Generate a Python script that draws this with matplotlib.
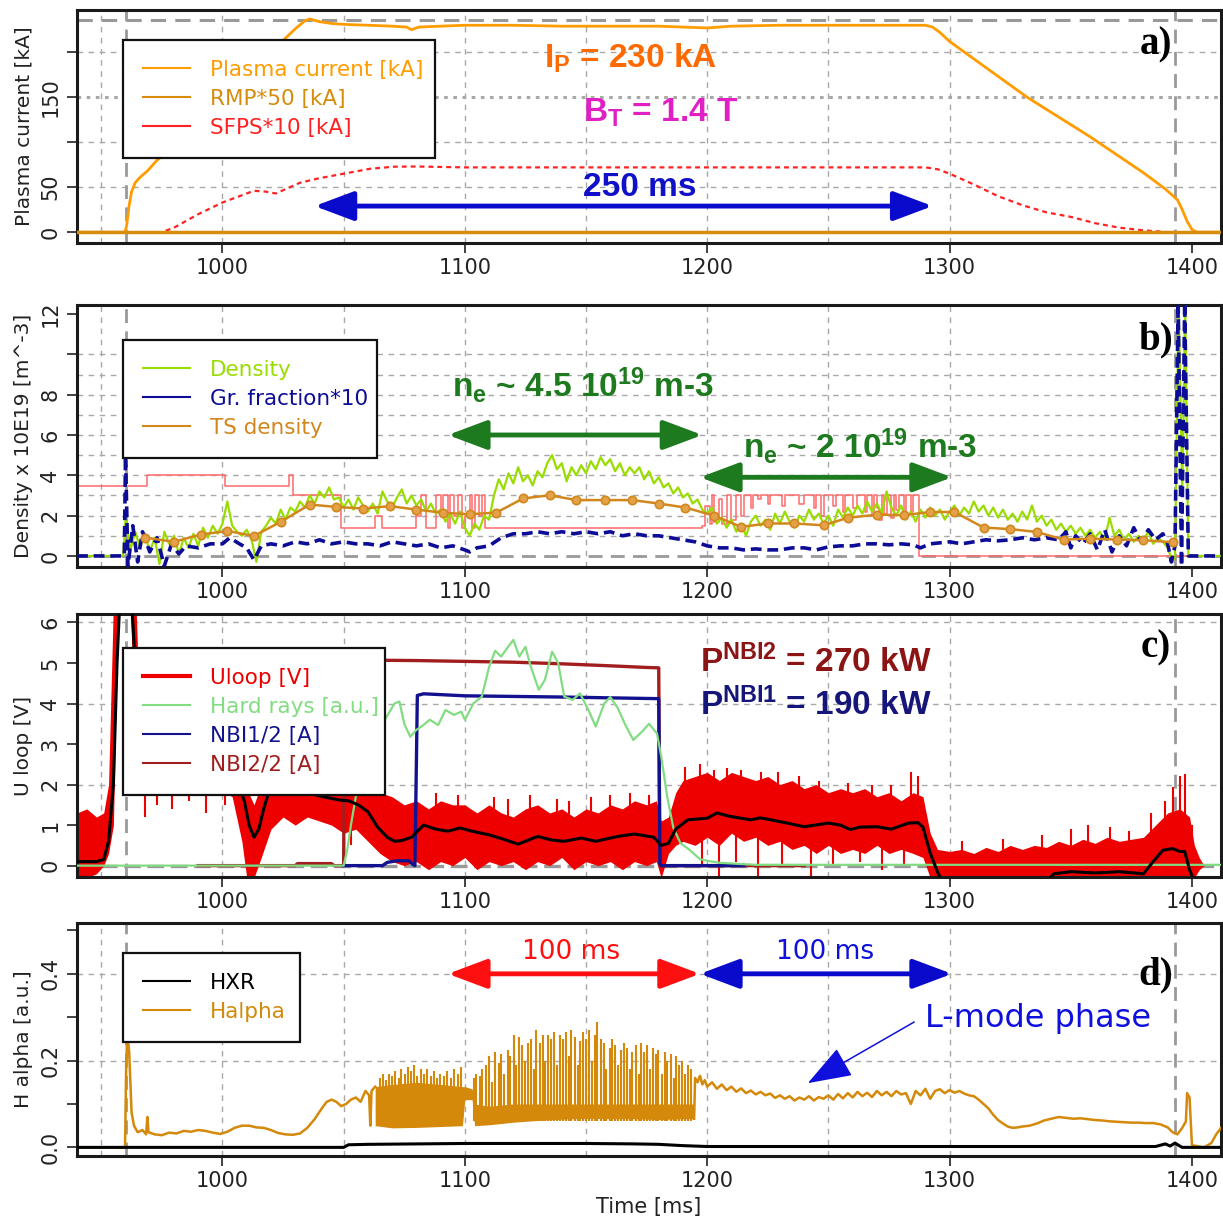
"""Shot overview: plasma current, density, loop voltage and H-alpha in four stacked panels."""
import numpy as np
import matplotlib
matplotlib.use("Agg")
import matplotlib.pyplot as plt
from matplotlib.lines import Line2D

plt.rcParams["font.family"] = ["DejaVu Sans"]
plt.rcParams["mathtext.fontset"] = "custom"
plt.rcParams["mathtext.rm"] = "Liberation Sans"
plt.rcParams["mathtext.bf"] = "Liberation Sans:bold"
plt.rcParams["mathtext.it"] = "Liberation Sans:italic"

# ---- a) plasma current / RMP / SFPS ---------------------------------------
ip_t = [940, 959.8, 960.5, 961.5, 962.5, 964, 966, 969, 973, 980,
        990, 1000, 1010, 1020, 1025, 1030, 1034, 1036, 1040, 1045,
        1050, 1060, 1070, 1076, 1078, 1081, 1090, 1100, 1120, 1140,
        1160, 1180, 1190, 1200, 1210, 1230, 1260, 1290, 1293, 1296,
        1300, 1332, 1358, 1380, 1389, 1394, 1396, 1398, 1400, 1402, 1412]
ip_v = [0, 0, 8, 30, 45, 55, 61, 68, 80, 95,
        122, 150, 175, 200, 213, 226, 235, 237, 234, 232,
        231, 230, 229, 228, 225, 228, 229, 230, 230, 229,
        229, 229, 228, 227, 229, 230, 230, 230, 228, 222,
        212, 150, 106, 66, 48, 36, 25, 12, 3, 0, 0]
rmp_t = [940, 1412]
rmp_v = [0, 0]
sfps_t = [940, 975, 980, 990, 1000, 1008, 1013, 1018, 1022, 1032,
          1040, 1050, 1061, 1071, 1080, 1100, 1200, 1290, 1295, 1300,
          1310, 1320, 1330, 1340, 1350, 1360, 1370, 1380, 1390, 1412]
sfps_v = [0, 0, 5, 20, 33, 41, 46, 45, 43, 55,
          60, 65, 70.5, 72.8, 73, 72, 72, 72, 70, 65,
          53, 40, 30, 22, 17, 10, 5, 2, 0, 0]

# ---- b) density ------------------------------------------------------------
dens_pre_t = [940, 959]
dens_pre_v = [0, 0]
dens_t0, dens_dt = 960, 2          # interferometer samples every 2 ms from 960 ms
dens_v = [
    1.8, 0.3, 1.2, 0.4, 1.1, 0.2, 0.9, -0.4, 1.2, 0.6,
    1.0, 0.1, 0.9, 0.4, 1.1, 0.5, 1.4, 0.9, 1.5, 1.1,
    1.6, 2.7, 1.5, 1.2, 1.0, 1.3, 0.8, -0.3, 1.2, 1.5,
    1.9, 1.6, 2.3, 1.8, 2.4, 2.2, 2.7, 2.4, 3.0, 2.6,
    3.2, 2.9, 3.4, 2.8, 2.9, 2.4, 2.8, 2.3, 2.9, 2.5,
    2.2, 2.6, 2.1, 3.2, 2.7, 2.4, 2.9, 3.3, 2.6, 3.0,
    2.5, 2.8, 2.2, 2.6, 2.1, 2.3, 1.7, 2.1, 1.6, 2.2,
    1.4, 1.0, 1.6, 1.3, 2.0, 1.8, 3.0, 3.8, 3.3, 4.1,
    3.6, 4.4, 3.7, 4.0, 3.5, 4.2, 3.9, 4.6, 5.0, 4.3,
    4.6, 3.7, 4.4, 4.0, 4.5, 4.1, 4.7, 4.3, 4.9, 4.5,
    4.8, 4.2, 4.6, 4.0, 4.4, 4.1, 4.4, 3.8, 4.2, 3.6,
    3.9, 3.4, 3.6, 3.1, 3.4, 2.9, 3.1, 2.6, 2.8, 2.3,
    2.1, 2.4, 1.6, 1.9, 1.4, 1.8, 1.2, 1.6, 1.0, 1.7,
    2.0, 1.5, 1.8, 1.3, 2.1, 1.6, 2.2, 1.7, 1.4, 2.0,
    1.7, 2.3, 1.8, 2.1, 1.6, 2.0, 1.5, 2.3, 1.9, 2.4,
    2.0, 2.5, 2.1, 2.7, 2.2, 2.6, 2.1, 3.2, 2.4, 2.0,
    2.5, 1.8, 2.2, 1.7, 2.3, 1.9, 2.4, 2.0, 2.3, 1.8,
    2.2, 2.5, 2.0, 2.4, 2.1, 2.7, 2.2, 2.5, 2.0, 2.4,
    1.9, 2.3, 1.8, 2.1, 1.7, 2.2, 1.8, 2.5, 1.7, 2.0,
    1.5, 1.8, 1.3, 1.6, 1.2, 1.5, 1.1, 1.4, 1.0, 1.3,
    0.9, 1.2, 0.8, 1.9, 1.0, 1.3, 0.8, 1.1, 0.7, 1.0,
    0.8, 1.2, 0.6, 0.9, 0.7, 0.4, -0.3,
]
dens_tail_t = [1393, 1394.5, 1396, 1397.2, 1398.5, 1400, 1412]
dens_tail_v = [0, 12.6, 3, 12.6, 0, 0, 0]

gr_t = [940, 959.5, 960, 961, 963, 965, 967, 970, 973, 976,
        979, 982, 985, 990, 995, 1000, 1003, 1007, 1010, 1013,
        1016, 1020, 1025, 1030, 1035, 1040, 1045, 1050, 1055, 1060,
        1065, 1070, 1075, 1080, 1085, 1090, 1095, 1100, 1102, 1105,
        1110, 1115, 1120, 1125, 1130, 1135, 1140, 1145, 1150, 1155,
        1160, 1165, 1170, 1175, 1180, 1185, 1190, 1195, 1200, 1205,
        1210, 1215, 1220, 1225, 1230, 1235, 1240, 1245, 1250, 1255,
        1260, 1265, 1270, 1275, 1280, 1285, 1288, 1292, 1300, 1305,
        1310, 1315, 1320, 1325, 1330, 1335, 1340, 1345, 1348, 1350,
        1352, 1355, 1358, 1361, 1364, 1367, 1370, 1373, 1376, 1379,
        1382, 1385, 1388, 1390, 1391.5, 1393, 1394.3, 1395.7, 1397, 1398.5,
        1412]
gr_v = [0, 0, 5.0, -0.5, 1.5, -0.3, 1.2, 0.2, 0.9, -0.5,
        0.6, 0.1, 0.5, 0.4, 0.6, 0.6, 0.9, 0.6, 0.4, -0.2,
        0.5, 0.6, 0.5, 0.7, 0.6, 0.8, 0.6, 0.7, 0.6, 0.6,
        0.5, 0.7, 0.6, 0.5, 0.6, 0.4, 0.5, 0.3, 0.2, 0.4,
        0.5, 0.9, 1.1, 1.1, 1.2, 1.1, 1.2, 1.1, 1.2, 1.1,
        1.2, 1.0, 1.1, 1.0, 1.0, 0.9, 0.8, 0.7, 0.5, 0.4,
        0.4, 0.3, 0.35, 0.3, 0.3, 0.4, 0.4, 0.3, 0.45, 0.5,
        0.5, 0.6, 0.6, 0.55, 0.6, 0.55, 0.4, 0.6, 0.7, 0.6,
        0.7, 0.8, 0.75, 0.8, 0.9, 0.8, 0.9, 0.8, 1.2, 0.4,
        1.0, 0.6, 1.1, 0.3, 1.3, 0.2, 1.0, 0.5, 1.4, 0.7,
        1.3, 0.8, 1.1, 0.6, -0.3, 0.5, 12.6, -0.5, 12.6, 0,
        0]

ts_t = [968, 980, 991, 1002, 1013, 1024, 1036, 1047, 1058, 1069,
        1080, 1091, 1102, 1113, 1124, 1135, 1146, 1158, 1169, 1180,
        1191, 1203, 1214, 1225, 1236, 1248, 1258, 1270, 1281, 1292,
        1302, 1314, 1325, 1336, 1347, 1358, 1369, 1380, 1392]
ts_v = [0.91, 0.70, 1.06, 1.24, 0.99, 1.69, 2.55, 2.43, 2.35, 2.47,
        2.30, 2.14, 2.07, 2.15, 2.85, 3.01, 2.77, 2.77, 2.77, 2.60,
        2.40, 1.99, 1.44, 1.61, 1.61, 1.52, 1.89, 2.05, 2.02, 2.18,
        2.18, 1.41, 1.33, 1.19, 0.81, 0.86, 0.81, 0.78, 0.68]

# thin red stepped channel (no legend entry)
step_t = [940, 969, 1001, 1027.5, 1029, 1049, 1063, 1066, 1080, 1082,
          1084, 1088, 1090, 1091, 1093, 1094, 1095.5, 1097, 1099, 1100,
          1102, 1103, 1104, 1106, 1107, 1108.5, 1198, 1199, 1201, 1202,
          1203, 1205, 1206, 1208, 1210, 1212, 1214, 1215, 1218, 1219,
          1221, 1222, 1225, 1226, 1231, 1232, 1238, 1240, 1244, 1245,
          1247, 1248, 1252, 1253, 1256, 1257, 1260, 1262, 1265, 1266,
          1268, 1269, 1270, 1271, 1272, 1273, 1274, 1276, 1277, 1278,
          1279, 1281, 1282, 1284, 1285, 1287.5, 1412]
step_v = [3.45, 4.0, 3.45, 4.0, 3.0, 1.4, 2.0, 1.4, 2.0, 3.0,
          1.4, 3.0, 2.0, 3.0, 1.4, 3.0, 2.0, 3.0, 1.4, 2.0,
          3.0, 1.4, 3.0, 2.0, 3.0, 1.4, 1.5, 2.5, 1.6, 3.0,
          1.7, 2.8, 1.6, 3.0, 1.8, 3.0, 2.0, 3.0, 2.4, 3.0,
          2.8, 3.0, 2.6, 3.0, 2.5, 3.0, 2.6, 3.0, 2.4, 3.0,
          2.0, 3.0, 2.5, 3.0, 2.2, 3.0, 2.4, 3.0, 2.2, 3.0,
          2.0, 3.0, 2.4, 1.8, 3.0, 2.1, 3.0, 1.9, 3.0, 2.3,
          3.0, 2.0, 3.0, 2.2, 3.0, 0.0, 0.0]

# ---- c) loop voltage, hard X-rays, NBI ------------------------------------
uloop_t = [940, 944, 948, 951, 953, 955, 957, 962, 964, 966,
           970, 975, 980, 985, 990, 995, 1000, 1004, 1008, 1010,
           1013, 1016, 1020, 1025, 1030, 1035, 1040, 1045, 1050, 1055,
           1060, 1065, 1070, 1075, 1080, 1085, 1090, 1095, 1100, 1105,
           1110, 1115, 1120, 1125, 1130, 1135, 1140, 1145, 1150, 1155,
           1160, 1165, 1170, 1175, 1179, 1181, 1184, 1187, 1190, 1195,
           1200, 1205, 1210, 1215, 1220, 1225, 1230, 1235, 1240, 1245,
           1250, 1255, 1260, 1265, 1270, 1275, 1280, 1285, 1289, 1292,
           1295, 1300, 1305, 1310, 1315, 1320, 1325, 1330, 1335, 1340,
           1345, 1350, 1355, 1360, 1365, 1370, 1375, 1380, 1385, 1390,
           1395, 1399, 1401, 1403, 1405]
uloop_lo = [-0.3, -0.3, -0.2, 0.0, 0.3, 1.0, 6.5, 6.5, 2.5, 2.0,
            2.0, 1.9, 1.95, 1.85, 2.0, 1.9, 1.85, 1.7, 0.6, -0.3,
            -0.3, 0.2, 0.9, 1.2, 1.0, 1.2, 1.1, 1.0, 0.8, 0.9,
            0.6, 0.3, 0.1, 0.0, 0.1, -0.1, 0.1, 0.0, 0.2, -0.1,
            0.1, 0.0, 0.1, -0.1, 0.1, 0.0, 0.2, -0.1, 0.1, 0.0,
            0.1, -0.1, 0.1, 0.0, 0.1, -0.3, 0.3, 0.5, 0.6, 0.5,
            0.7, 0.5, 0.8, 0.6, 0.7, 0.5, 0.6, 0.4, 0.5, 0.3,
            0.5, 0.3, 0.4, 0.3, 0.5, 0.3, 0.4, 0.3, 0.2, -0.3,
            -0.3, -0.3, -0.3, -0.3, -0.3, -0.3, -0.3, -0.3, -0.3, -0.3,
            -0.3, -0.3, -0.3, -0.3, -0.3, -0.3, -0.3, -0.3, -0.3, -0.3,
            -0.3, -0.3, -0.3, -0.1, 0.0]
uloop_hi = [1.3, 1.4, 1.2, 1.3, 2.0, 6.5, 7.0, 7.0, 7.0, 3.5,
            3.0, 2.8, 2.9, 2.7, 2.8, 2.6, 2.5, 2.4, 2.2, 1.9,
            1.5, 2.0, 2.2, 2.4, 2.3, 2.3, 2.2, 2.1, 2.0, 1.9,
            1.9, 1.8, 1.7, 1.5, 1.6, 1.4, 1.6, 1.5, 1.5, 1.3,
            1.5, 1.3, 1.2, 1.4, 1.5, 1.3, 1.4, 1.2, 1.4, 1.3,
            1.5, 1.4, 1.6, 1.5, 1.6, 1.1, 1.2, 1.8, 2.1, 2.2,
            2.3, 2.1, 2.3, 2.2, 2.1, 2.2, 2.0, 2.1, 1.9, 2.0,
            1.8, 1.9, 1.8, 1.9, 1.7, 1.8, 1.6, 1.8, 1.7, 0.8,
            0.4, 0.35, 0.4, 0.3, 0.45, 0.35, 0.5, 0.4, 0.5, 0.45,
            0.6, 0.5, 0.65, 0.55, 0.7, 0.6, 0.65, 0.7, 1.0, 1.3,
            1.4, 1.2, 0.5, 0.2, 0.0]
# isolated Uloop spikes outside the band
spk_t = [1053, 1080, 1088, 1097, 1112, 1118, 1127, 1138, 1143, 1152,
         1160, 1168, 1176, 1191, 1197, 1203, 1208, 1214, 1222, 1229,
         1238, 1246, 1258, 1268, 1276, 1284, 1287, 1305, 1322, 1338,
         1350, 1357, 1366, 1374, 1383, 1389, 1392, 1395, 1397, 1400,
         1198, 1205, 1212, 1221, 1231, 1243, 1252, 1263, 1272, 1281,
         968, 973, 979, 986, 993, 1001]
spk_lo = [0.5, 0.5, 0.5, 0.5, 0.5, 0.5, 0.5, 0.5, 0.5, 0.5,
          0.5, 0.5, 0.5, 1.0, 1.0, 1.0, 1.0, 1.0, 1.0, 1.0,
          1.0, 1.0, 1.0, 1.0, 1.0, 1.0, 1.0, 0.0, 0.0, 0.0,
          0.0, 0.0, 0.0, 0.0, 0.0, 0.0, 0.0, 0.0, 0.0, 0.0,
          0.0, -0.3, 0.1, -0.3, 0.0, -0.3, 0.0, 0.1, -0.1, 0.0,
          1.2, 1.5, 1.4, 1.6, 1.3, 1.5]
spk_hi = [2.0, 2.1, 1.8, 1.75, 1.7, 1.65, 1.75, 1.65, 1.6, 1.7,
          1.75, 1.8, 1.75, 2.44, 2.5, 2.35, 2.4, 2.35, 2.3, 2.3,
          2.2, 2.1, 2.05, 2.0, 2.0, 2.3, 2.2, 0.6, 0.65, 0.75,
          0.9, 1.0, 0.95, 0.85, 1.3, 1.6, 1.95, 2.2, 2.25, 1.0,
          1.0, 1.0, 1.0, 1.0, 1.0, 1.0, 1.0, 1.0, 1.0, 1.0,
          2.2, 2.2, 2.2, 2.2, 2.2, 2.2]
# smoothed loop voltage (black)
usm_t = [940, 948, 951, 953, 955, 956.5, 958, 962, 964, 966,
         975, 990, 1000, 1006, 1009, 1011, 1013, 1015, 1017, 1020,
         1030, 1040, 1048, 1052, 1056, 1060, 1064, 1068, 1071, 1074,
         1078, 1083, 1088, 1093, 1098, 1103, 1110, 1116, 1122, 1130,
         1136, 1141, 1148, 1154, 1163, 1170, 1178, 1181, 1184, 1187,
         1192, 1200, 1204, 1209, 1218, 1222, 1233, 1240, 1250, 1255,
         1259, 1263, 1270, 1276, 1283, 1287, 1289, 1292, 1295, 1297,
         1340, 1343, 1350, 1360, 1370, 1380, 1384, 1388, 1392, 1395,
         1397, 1399, 1401]
usm_v = [0.1, 0.1, 0.15, 0.6, 2.0, 5.0, 7.0, 7.0, 5.0, 3.0,
         2.6, 2.4, 2.3, 2.1, 1.6, 1.0, 0.7, 0.9, 1.4, 2.0,
         1.9, 1.72, 1.62, 1.6, 1.5, 1.33, 0.95, 0.7, 0.6, 0.62,
         0.7, 1.0, 0.9, 0.85, 0.93, 0.85, 0.76, 0.65, 0.53, 0.72,
         0.63, 0.6, 0.68, 0.6, 0.72, 0.78, 0.7, 0.5, 0.55, 0.9,
         1.13, 1.17, 1.3, 1.22, 1.13, 1.18, 1.05, 0.96, 1.05, 1.0,
         0.89, 0.95, 0.96, 0.9, 1.05, 1.06, 0.95, 0.31, -0.15, -0.4,
         -0.4, -0.2, -0.15, -0.18, -0.15, -0.2, 0.1, 0.38, 0.42, 0.35,
         0.35, -0.1, -0.4]
hr_t = [940, 1050, 1051.5, 1053, 1055, 1058, 1062, 1066, 1069, 1071,
        1073, 1075, 1077.5, 1080, 1082.5, 1085.5, 1089, 1092, 1095.5, 1098.5,
        1100, 1103.5, 1107, 1110, 1112.5, 1115, 1117.5, 1120, 1122.5, 1125,
        1127, 1130.5, 1133, 1136, 1138.5, 1141, 1144.5, 1147.5, 1151, 1154,
        1157.5, 1160, 1163, 1166, 1169.5, 1173, 1176, 1179.3, 1181, 1183.5,
        1186, 1189, 1192.5, 1197, 1200, 1205, 1211, 1220, 1412]
hr_v = [0.0, 0.0, 0.4, 1.0, 1.7, 2.4, 3.0, 3.5, 3.8, 4.0,
        4.05, 3.5, 3.18, 3.35, 3.45, 3.6, 3.47, 3.84, 3.72, 3.8,
        3.6, 4.0, 4.17, 4.9, 5.3, 5.16, 5.37, 5.57, 5.16, 5.4,
        4.95, 4.34, 4.58, 5.28, 5.0, 4.17, 4.09, 4.25, 3.84, 3.43,
        4.0, 4.16, 3.9, 3.5, 3.1, 3.3, 3.5, 3.26, 2.7, 1.7,
        0.94, 0.55, 0.4, 0.16, 0.12, 0.07, 0.05, 0.02, 0.02]
nbi1_t = [1050, 1066, 1068, 1072, 1077, 1078.5, 1079.4, 1080.4, 1083, 1100,
          1140, 1180, 1180.5, 1181, 1215]
nbi1_v = [0, 0, 0.08, 0.12, 0.12, 0.03, 0.0, 4.2, 4.24, 4.19,
          4.16, 4.12, 0.05, 0.0, 0.0]
nbi2_t = [990, 1030, 1031, 1045, 1046, 1050, 1050.4, 1060, 1080, 1100,
          1120, 1140, 1160, 1175, 1180, 1180.4, 1181, 1240]
nbi2_v = [0, 0, 0.05, 0.05, 0, 0, 5.08, 5.07, 5.06, 5.04,
          5.02, 4.98, 4.93, 4.89, 4.88, 0.0, 0.0, 0.0]

# ---- d) H-alpha / HXR ------------------------------------------------------
ha_pre_t = [940, 959.8, 960.3, 960.8, 961.5, 962.5, 963.5, 965, 967, 968.5,
            969, 969.5, 972, 975, 978, 981, 984, 987, 990, 993,
            996, 999, 1002, 1005, 1008, 1011, 1014, 1017, 1020, 1023,
            1026, 1029, 1032, 1035, 1038, 1041, 1043, 1045, 1047, 1049,
            1051, 1053, 1055, 1057, 1059, 1060.5, 1061, 1061.5, 1063]
ha_pre_v = [0, 0, 0.2, 0.26, 0.22, 0.08, 0.05, 0.035, 0.04, 0.03,
            0.07, 0.035, 0.03, 0.028, 0.034, 0.032, 0.038, 0.036, 0.04, 0.038,
            0.034, 0.031, 0.036, 0.045, 0.05, 0.05, 0.046, 0.045, 0.04, 0.033,
            0.03, 0.029, 0.032, 0.045, 0.065, 0.09, 0.105, 0.11, 0.105, 0.095,
            0.1, 0.11, 0.115, 0.105, 0.13, 0.12, 0.05, 0.13, 0.14]
# dense inter-ELM band
ha_band_t = [1063, 1070, 1080, 1090, 1099, 1100, 1103, 1104, 1110, 1120,
             1130, 1140, 1150, 1160, 1170, 1180, 1190, 1194.6]
ha_band_lo = [0.05, 0.045, 0.046, 0.048, 0.05, 0.11, 0.11, 0.05, 0.052, 0.058,
              0.062, 0.065, 0.067, 0.066, 0.066, 0.064, 0.066, 0.066]
ha_band_hi = [0.14, 0.145, 0.15, 0.145, 0.14, 0.14, 0.135, 0.10, 0.095, 0.10,
              0.10, 0.10, 0.10, 0.10, 0.10, 0.10, 0.10, 0.10]
# ELM spikes
elm_t = [1065.0, 1066.4, 1067.5, 1068.9, 1070.1, 1071.2, 1072.7, 1073.8, 1075.2, 1076.4,
         1077.6, 1079.1, 1080.3, 1081.8, 1083.0, 1084.3, 1085.9, 1087.1, 1088.6, 1089.8,
         1091.4, 1092.7, 1094.1, 1095.6, 1097.0, 1098.4, 1103.6, 1104.7, 1106.1, 1107.2,
         1108.7, 1109.9, 1111.4, 1112.5, 1113.9, 1115.1, 1116.2, 1117.7, 1118.8, 1120.1,
         1121.3, 1122.3, 1123.7, 1124.9, 1125.9, 1127.3, 1128.5, 1129.5, 1130.9, 1132.1,
         1133.1, 1134.5, 1135.7, 1136.7, 1138.1, 1139.3, 1140.3, 1141.7, 1142.9, 1143.9,
         1145.3, 1146.5, 1147.5, 1148.9, 1150.1, 1151.1, 1152.5, 1153.7, 1154.7, 1156.1,
         1157.3, 1158.3, 1159.7, 1160.9, 1161.9, 1163.3, 1164.5, 1165.5, 1166.9, 1168.1,
         1169.1, 1170.5, 1171.7, 1172.7, 1174.1, 1175.3, 1176.3, 1177.7, 1178.9, 1179.9,
         1181.3, 1182.5, 1183.5, 1184.9, 1186.1, 1187.1, 1188.5, 1189.7, 1190.7, 1192.1,
         1193.3]
elm_pk = [0.16, 0.17, 0.155, 0.17, 0.165, 0.175, 0.16, 0.18, 0.17, 0.185,
          0.175, 0.19, 0.165, 0.18, 0.17, 0.18, 0.165, 0.175, 0.16, 0.17,
          0.165, 0.175, 0.16, 0.18, 0.17, 0.185, 0.16, 0.17, 0.165, 0.18,
          0.19, 0.21, 0.15, 0.22, 0.195, 0.215, 0.17, 0.225, 0.21, 0.26,
          0.19, 0.255, 0.235, 0.2, 0.24, 0.25, 0.18, 0.27, 0.24, 0.26,
          0.2, 0.26, 0.25, 0.265, 0.19, 0.26, 0.25, 0.265, 0.21, 0.27,
          0.255, 0.19, 0.245, 0.265, 0.25, 0.27, 0.2, 0.26, 0.29, 0.25,
          0.24, 0.18, 0.23, 0.25, 0.235, 0.19, 0.225, 0.24, 0.23, 0.18,
          0.22, 0.235, 0.17, 0.24, 0.22, 0.235, 0.18, 0.23, 0.215, 0.225,
          0.17, 0.22, 0.2, 0.215, 0.16, 0.21, 0.19, 0.2, 0.17, 0.19,
          0.18]
ha_post_t = [1194.6, 1195, 1196, 1197, 1198, 1199, 1200, 1202, 1204, 1206,
             1208, 1210, 1212, 1214, 1216, 1218, 1220, 1222, 1224, 1226,
             1228, 1230, 1232, 1234, 1236, 1238, 1240, 1242, 1244, 1246,
             1248, 1250, 1252, 1254, 1256, 1258, 1260, 1262, 1264, 1266,
             1268, 1270, 1272, 1274, 1276, 1278, 1280, 1282, 1284, 1286,
             1288, 1290, 1292, 1294, 1296, 1298, 1300, 1302, 1304, 1306,
             1308, 1310, 1312, 1314, 1316, 1318, 1320, 1322, 1324, 1326,
             1328, 1330, 1333, 1336, 1339, 1342, 1345, 1348, 1351, 1354,
             1357, 1360, 1363, 1366, 1369, 1372, 1375, 1378, 1381, 1384,
             1387, 1390, 1392, 1394, 1396, 1397.5, 1398, 1399, 1399.5, 1400,
             1405, 1408, 1410, 1412]
ha_post_v = [0.066, 0.16, 0.15, 0.165, 0.145, 0.155, 0.14, 0.15, 0.135, 0.145,
             0.132, 0.14, 0.128, 0.136, 0.125, 0.131, 0.122, 0.128, 0.12, 0.124,
             0.114, 0.12, 0.112, 0.118, 0.108, 0.115, 0.11, 0.118, 0.108, 0.116,
             0.112, 0.12, 0.11, 0.123, 0.113, 0.125, 0.115, 0.128, 0.118, 0.126,
             0.116, 0.13, 0.12, 0.128, 0.118, 0.13, 0.122, 0.125, 0.1, 0.13,
             0.12, 0.135, 0.112, 0.13, 0.134, 0.125, 0.132, 0.126, 0.13, 0.124,
             0.12, 0.118, 0.11, 0.1, 0.09, 0.075, 0.063, 0.055, 0.048, 0.045,
             0.046, 0.048, 0.05, 0.055, 0.062, 0.066, 0.07, 0.068, 0.066, 0.067,
             0.065, 0.063, 0.062, 0.06, 0.059, 0.058, 0.057, 0.057, 0.056, 0.056,
             0.053, 0.046, 0.035, 0.03, 0.045, 0.06, 0.125, 0.115, 0.06, 0.005,
             0.0, 0.01, 0.03, 0.045]
hxr_t = [940, 1050, 1052, 1060, 1080, 1100, 1130, 1150, 1170, 1180,
         1190, 1200, 1385, 1389, 1391, 1393, 1395, 1396, 1412]
hxr_v = [0, 0, 0.006, 0.007, 0.008, 0.009, 0.009, 0.009, 0.008, 0.007,
         0.004, 0.002, 0.002, 0.008, 0.003, 0.01, 0.003, 0, 0]

# ---- colours ---------------------------------------------------------------
C_IP = "#FF9C00"
C_RMP = "#D68C0C"
C_SFPS = "#FF2222"
C_DENS = "#99DD00"
C_GR = "#0C0C96"
C_TS = "#D2871C"
C_STEP = "#FF6A6A"
C_UL = "#EE0000"
C_HR = "#82DC82"
C_NBI1 = "#12128E"
C_NBI2 = "#A21E1E"
C_HA = "#D4890A"
C_GREEN = "#1E7A1E"
GRID = "#A8A8A8"
XLIM = (940, 1412)
GRID_X = [950, 1000, 1050, 1100, 1150, 1200, 1250, 1300]
T_START, T_END = 960, 1393
L, W = 0.0630, 0.9354
ANN = dict(fontsize=24, fontweight="bold", family="Liberation Sans", va="center")


def style(ax, ylim, yticks, ylabels, ylabel, hgrid):
    ax.set_xlim(*XLIM)
    ax.set_ylim(*ylim)
    ax.set_xticks([1000, 1100, 1200, 1300, 1400])
    ax.set_yticks(yticks)
    ax.set_yticklabels(ylabels)
    ax.tick_params(direction="out", length=7, width=1.2, labelsize=15,
                   colors="#222222", pad=4)
    ax.tick_params(axis="y", labelrotation=90, pad=5)
    plt.setp(ax.get_yticklabels(), va="center")
    ax.set_ylabel(ylabel, fontsize=14.5, labelpad=5, color="#222222")
    for s in ax.spines.values():
        s.set_linewidth(2.2)
        s.set_color("#1a1a1a")
    for x in GRID_X:
        ax.axvline(x, color=GRID, lw=1, ls=(0, (4, 4)), zorder=0.5)
    for y in hgrid:
        ax.axhline(y, color=GRID, lw=1, ls=(0, (4, 4)), zorder=0.5)
    for x in (T_START, T_END):
        ax.axvline(x, color="#999999", lw=2, ls=(0, (5, 3)), zorder=0.6)


def legend(ax, entries, x0, y0, width):
    handles = [Line2D([], [], color=c, lw=lw) for _, c, lw in entries]
    leg = ax.legend(handles, [e[0] for e in entries], loc="upper left",
                    bbox_to_anchor=(x0, y0, width, 0), mode="expand",
                    borderaxespad=0, fontsize=15.5, handlelength=2.2,
                    handletextpad=0.9, labelspacing=0.42, borderpad=0.92,
                    fancybox=False, framealpha=1)
    leg.get_frame().set_edgecolor("#111111")
    leg.get_frame().set_linewidth(1.6)
    for txt, (_, c, _) in zip(leg.get_texts(), entries):
        txt.set_color(c)


def tag(ax, letter, y):
    ax.text(0.943, y, letter, transform=ax.transAxes, ha="center", va="center",
            fontsize=28, fontweight="bold", family="Liberation Serif", zorder=6)


def double_arrow(ax, x0, x1, y, color):
    ax.annotate("", xy=(x1, y), xytext=(x0, y),
                arrowprops=dict(arrowstyle="<|-|>,head_length=1.2,head_width=0.45",
                                mutation_scale=20, lw=3.5, color=color,
                                shrinkA=0, shrinkB=0), zorder=6)


fig = plt.figure(figsize=(12.23, 12.16), dpi=100)

# ---- panel a -----------------------------------------------------------------
ax = fig.add_axes([L, 0.8002, W, 0.1916])
style(ax, (-12, 247), [0, 50, 100, 150, 200], ["0", "50", "", "150", ""],
      "Plasma current [kA]", [50, 100, 200])
ax.axhline(150, color=GRID, lw=2.2, ls=(0, (1.2, 1.8)), zorder=0.5)
ax.axhline(236, color="#999999", lw=2.2, ls=(0, (5, 3)), zorder=0.6)
ax.plot(sfps_t, sfps_v, color=C_SFPS, lw=1.6, ls=(0, (2.2, 1.8)), zorder=3)
ax.plot(ip_t, ip_v, color=C_IP, lw=2, zorder=4)
ax.plot(rmp_t, rmp_v, color=C_RMP, lw=2.5, zorder=4)
legend(ax, [("Plasma current [kA]", C_IP, 1.5), ("RMP*50 [kA]", C_RMP, 1.5),
            ("SFPS*10 [kA]", C_SFPS, 1.5)], 0.0402, 0.871, 0.2727)
ax.text(1168.5, 193, r"I$_{\mathbf{P}}$ = 230 kA", color="#FF6A00", ha="center", **ANN)
ax.text(1180.8, 133, r"B$_{\mathbf{T}}$ = 1.4 T", color="#E020C4", ha="center", **ANN)
ax.text(1172, 50, "250 ms", color="#1010C8", ha="center", **ANN)
double_arrow(ax, 1038, 1293, 29, "#0A0ACC")
tag(ax, "a)", 0.85)

# ---- panel b -----------------------------------------------------------------
ax = fig.add_axes([L, 0.5337, W, 0.2155])
style(ax, (-0.55, 12.45), [0, 2, 4, 6, 8, 10, 12],
      ["0", "2", "4", "6", "8", "", "12"], "Density x 10E19 [m^-3]",
      [1, 2, 3, 4, 5, 6, 7, 8, 9, 10])
ax.axhline(0, color="#999999", lw=2, ls=(0, (5, 3)), zorder=0.6)
ax.plot(step_t, step_v, color=C_STEP, lw=1.1, drawstyle="steps-post", zorder=2)
dens_t = dens_t0 + dens_dt * np.arange(len(dens_v))
ax.plot(np.concatenate([dens_pre_t, dens_t, dens_tail_t]),
        np.concatenate([dens_pre_v, dens_v, dens_tail_v]),
        color=C_DENS, lw=1.6, zorder=3)
ax.plot(gr_t, gr_v, color=C_GR, lw=2.6, ls=(0, (3, 1.6)), zorder=3.5)
ax.plot(ts_t, ts_v, color=C_TS, lw=1.8, marker="o", ms=6, mfc="#E3A24A",
        mec=C_TS, mew=1.2, zorder=4)
legend(ax, [("Density", C_DENS, 1.5), ("Gr. fraction*10", C_GR, 1.5),
            ("TS density", C_TS, 1.5)], 0.0402, 0.866, 0.222)
ax.text(1148.7, 8.48, r"n$_{\mathbf{e}}$ ~ 4.5 10$^{\mathbf{19}}$ m-3",
        color=C_GREEN, ha="center", **ANN)
double_arrow(ax, 1093, 1198, 6.0, C_GREEN)
ax.text(1262.9, 5.45, r"n$_{\mathbf{e}}$ ~ 2 10$^{\mathbf{19}}$ m-3",
        color=C_GREEN, ha="center", **ANN)
double_arrow(ax, 1197, 1301, 3.9, C_GREEN)
tag(ax, "b)", 0.866)

# ---- panel c -----------------------------------------------------------------
ax = fig.add_axes([L, 0.2788, W, 0.2163])
style(ax, (-0.28, 6.21), [0, 1, 2, 3, 4, 5, 6],
      ["0", "1", "2", "3", "4", "5", "6"], "U loop [V]", [2, 4, 6])
ax.axhline(0, color="#999999", lw=2.4, ls=(0, (5, 2)), zorder=0.6)
ax.fill_between(uloop_t, uloop_lo, uloop_hi, color=C_UL, lw=0, zorder=2)
ax.vlines(spk_t, spk_lo, spk_hi, color=C_UL, lw=1.5, zorder=2)
ax.plot(nbi2_t, nbi2_v, color=C_NBI2, lw=2.4, zorder=3)
ax.plot(nbi1_t, nbi1_v, color=C_NBI1, lw=2.4, zorder=3)
ax.plot(hr_t, hr_v, color=C_HR, lw=1.6, zorder=3.5)
ax.plot(usm_t, usm_v, color="black", lw=2.2, zorder=4)
legend(ax, [("Uloop [V]", C_UL, 3), ("Hard rays [a.u.]", C_HR, 1.5),
            ("NBI1/2 [A]", C_NBI1, 1.5), ("NBI2/2 [A]", C_NBI2, 1.5)],
       0.0402, 0.871, 0.229)
ax.text(1197, 5.03, r"P$^{\mathbf{NBI2}}$ = 270 kW", color="#8B1515", ha="left", **ANN)
ax.text(1197, 3.97, r"P$^{\mathbf{NBI1}}$ = 190 kW", color="#16167A", ha="left", **ANN)
tag(ax, "c)", 0.871)

# ---- panel d -----------------------------------------------------------------
ax = fig.add_axes([L, 0.0493, W, 0.1916])
style(ax, (-0.02, 0.517), [0, 0.1, 0.2, 0.3, 0.4, 0.5],
      ["0.0", "", "0.2", "", "0.4", ""], "H alpha [a.u.]", [0.2, 0.4])
ax.fill_between(ha_band_t, ha_band_lo, ha_band_hi, color=C_HA, lw=0, zorder=3)
ax.vlines(elm_t, 0.06, elm_pk, color=C_HA, lw=1.5, zorder=3)
ax.plot(ha_pre_t, ha_pre_v, color=C_HA, lw=1.8, zorder=3)
ax.plot(ha_post_t, ha_post_v, color=C_HA, lw=1.8, zorder=3)
ax.plot(hxr_t, hxr_v, color="black", lw=2.2, zorder=4)
legend(ax, [("HXR", "black", 1.5), ("Halpha", C_HA, 1.5)], 0.0402, 0.871, 0.1547)
ax.set_xlabel("Time [ms]", fontsize=15, labelpad=4, color="#222222")
ax.text(1144, 0.451, "100 ms", color="#FF1010", fontsize=19, ha="center", va="center")
ax.text(1248.5, 0.451, "100 ms", color="#1010DD", fontsize=19, ha="center", va="center")
double_arrow(ax, 1093, 1197, 0.40, "#FF1010")
double_arrow(ax, 1197, 1301, 0.40, "#0A0ACC")
ax.text(1336.7, 0.298, "L-mode phase", color="#1010DD", fontsize=23,
        ha="center", va="center")
ax.annotate("", xy=(1241.5, 0.148), xytext=(1285.4, 0.289),
            arrowprops=dict(arrowstyle="-|>,head_length=1.4,head_width=0.5",
                            mutation_scale=20, lw=1.1, color="#1010DD",
                            shrinkA=0, shrinkB=0))
tag(ax, "d)", 0.777)

fig.savefig("out.png", dpi=100)
